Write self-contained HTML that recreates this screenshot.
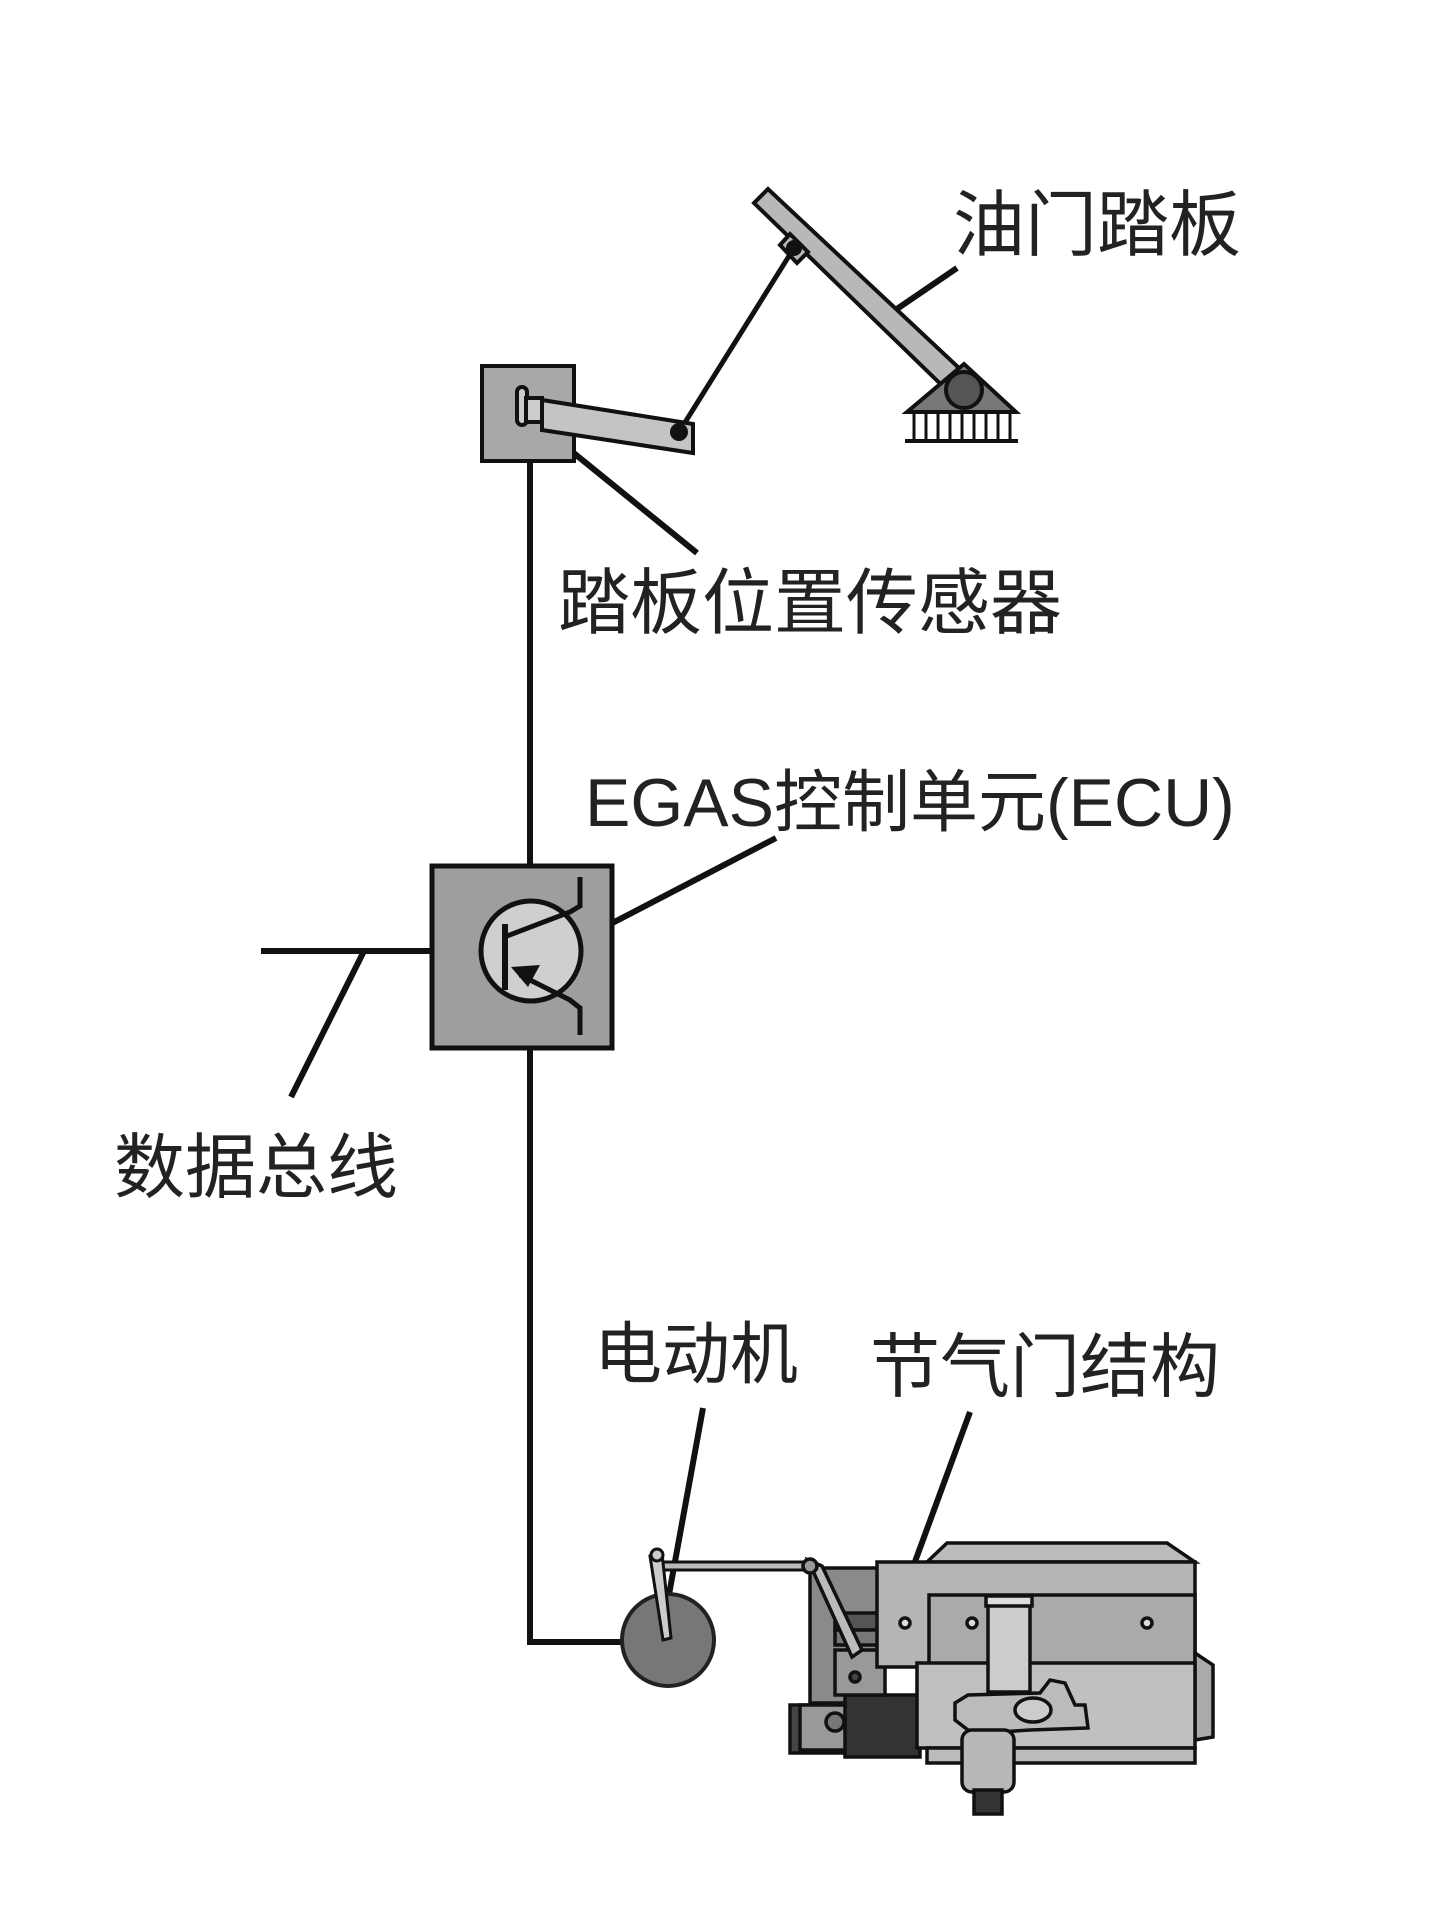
<!DOCTYPE html>
<html><head><meta charset="utf-8"><style>
html,body{margin:0;padding:0;background:#fff;}
svg{display:block;}
text{font-family:"Liberation Sans","Noto Sans CJK SC",sans-serif;fill:#222;}
</style></head><body>
<svg width="1442" height="1920" viewBox="0 0 1442 1920" xmlns="http://www.w3.org/2000/svg">
<g stroke="#111" stroke-width="6" fill="none">
  <polyline points="530,461 530,866"/>
  <polyline points="530,1048 530,1642 622,1642"/>
  <line x1="261" y1="951" x2="520" y2="951"/>
  <line x1="364" y1="951" x2="291" y2="1097"/>
  <line x1="957" y1="268" x2="891" y2="313"/>
  <line x1="570" y1="450" x2="697" y2="553"/>
  <line x1="776" y1="838" x2="570" y2="945"/>
  <line x1="703" y1="1408" x2="668" y2="1600"/>
  <line x1="970" y1="1412" x2="909" y2="1578"/>
</g>
<g stroke="#111" stroke-width="4">
  <polygon points="754,203 768,189 975,383 957,400" fill="#b8b8b8"/>
  <polygon points="780,245 790,234 808,252 797,263" fill="#b8b8b8"/>
  <polygon points="907,412 964,364 1016,412" fill="#777"/>
  <circle cx="964" cy="390" r="18" fill="#555"/>
  <line x1="905" y1="441" x2="1018" y2="441"/>
</g>
<g stroke="#111" stroke-width="3">
  <line x1="914" y1="412" x2="914" y2="441"/><line x1="926" y1="412" x2="926" y2="441"/>
  <line x1="938" y1="412" x2="938" y2="441"/><line x1="950" y1="412" x2="950" y2="441"/>
  <line x1="962" y1="412" x2="962" y2="441"/><line x1="974" y1="412" x2="974" y2="441"/>
  <line x1="986" y1="412" x2="986" y2="441"/><line x1="998" y1="412" x2="998" y2="441"/>
  <line x1="1010" y1="412" x2="1010" y2="441"/>
</g>
<line x1="794" y1="248" x2="679" y2="432" stroke="#111" stroke-width="5"/>
<circle cx="794" cy="248" r="8" fill="#111"/>
<g stroke="#111" stroke-width="4">
  <rect x="482" y="366" width="92" height="95" fill="#a8a8a8"/>
  <rect x="517" y="387" width="10" height="38" rx="5" fill="#ccc"/>
  <rect x="526" y="398" width="16" height="24" fill="#ccc"/>
  <polygon points="542,400 693,424 693,453 542,430" fill="#c4c4c4"/>
</g>
<circle cx="679" cy="432" r="9" fill="#111"/>
<g stroke="#111" stroke-width="5">
  <rect x="432" y="866" width="180" height="182" fill="#9e9e9e"/>
  <circle cx="531" cy="951" r="50" fill="#cfcfcf"/>
  <line x1="505" y1="924" x2="505" y2="990" stroke-width="6"/>
  <polyline points="507,936 570,912 580,906 580,877" fill="none"/>
  <polyline points="520,975 570,1000 580,1008 580,1035" fill="none"/>
</g>
<polygon points="511,967 540,965 528,987" fill="#111"/>
<circle cx="668" cy="1640" r="46" fill="#777" stroke="#222" stroke-width="4"/>
<g stroke="#111" stroke-width="3">
  <line x1="660" y1="1566" x2="810" y2="1566" stroke-width="11"/>
  <line x1="660" y1="1566" x2="810" y2="1566" stroke="#bbb" stroke-width="5"/>
  <polygon points="650,1556 662,1553 671,1638 663,1640" fill="#ccc"/>
  <circle cx="657" cy="1555" r="6" fill="#ccc"/>
</g>
<g stroke="#111" stroke-width="3.5">
  <rect x="810" y="1568" width="70" height="135" fill="#8a8a8a"/>
  <rect x="835" y="1613" width="45" height="17" fill="#555"/>
  <rect x="835" y="1630" width="45" height="15" fill="#777"/>
  <rect x="790" y="1705" width="70" height="48" fill="#444"/>
  <rect x="800" y="1705" width="55" height="45" fill="#999"/>
  <rect x="845" y="1695" width="75" height="62" fill="#333"/>
  <rect x="835" y="1650" width="50" height="45" fill="#999"/>
  <polygon points="927,1562 947,1543 1167,1543 1195,1562" fill="#bbb"/>
  <rect x="877" y="1562" width="318" height="105" fill="#b5b5b5"/>
  <rect x="929" y="1595" width="266" height="70" fill="#aaa"/>
  <polygon points="1195,1653 1213,1665 1213,1737 1195,1740" fill="#aaa"/>
  <rect x="917" y="1663" width="278" height="85" fill="#c0c0c0"/>
  <rect x="927" y="1748" width="268" height="15" fill="#bbb"/>
  <rect x="988" y="1596" width="42" height="96" fill="#ccc"/>
  <rect x="986" y="1596" width="46" height="10" fill="#ddd"/>
  <polygon points="955,1703 968,1695 1040,1693 1050,1680 1065,1683 1075,1705 1085,1705 1088,1728 1030,1730 1000,1732 968,1730 955,1720" fill="#bbb"/>
  <ellipse cx="1033" cy="1710" rx="18" ry="12" fill="#ccc"/>
  <rect x="962" y="1730" width="52" height="62" rx="10" fill="#b8b8b8"/>
  <rect x="974" y="1790" width="28" height="24" fill="#333"/>
  <circle cx="905" cy="1623" r="5" fill="#ddd"/>
  <circle cx="972" cy="1623" r="5" fill="#ddd"/>
  <circle cx="1147" cy="1623" r="5" fill="#ddd"/>
  <circle cx="835" cy="1722" r="9" fill="#777"/>
  <circle cx="855" cy="1677" r="5" fill="#444"/>
  <polygon points="808,1560 822,1566 862,1650 852,1657" fill="#bbb"/>
  <circle cx="810" cy="1566" r="7" fill="#999"/>
</g>
<text x="953" y="250" font-size="72">油门踏板</text>
<text x="558" y="628" font-size="72">踏板位置传感器</text>
<text x="585" y="826" font-size="68">EGAS控制单元(ECU)</text>
<text x="114" y="1192" font-size="71">数据总线</text>
<text x="594" y="1378" font-size="68">电动机</text>
<text x="870" y="1391" font-size="70">节气门结构</text>
</svg>
</body></html>
